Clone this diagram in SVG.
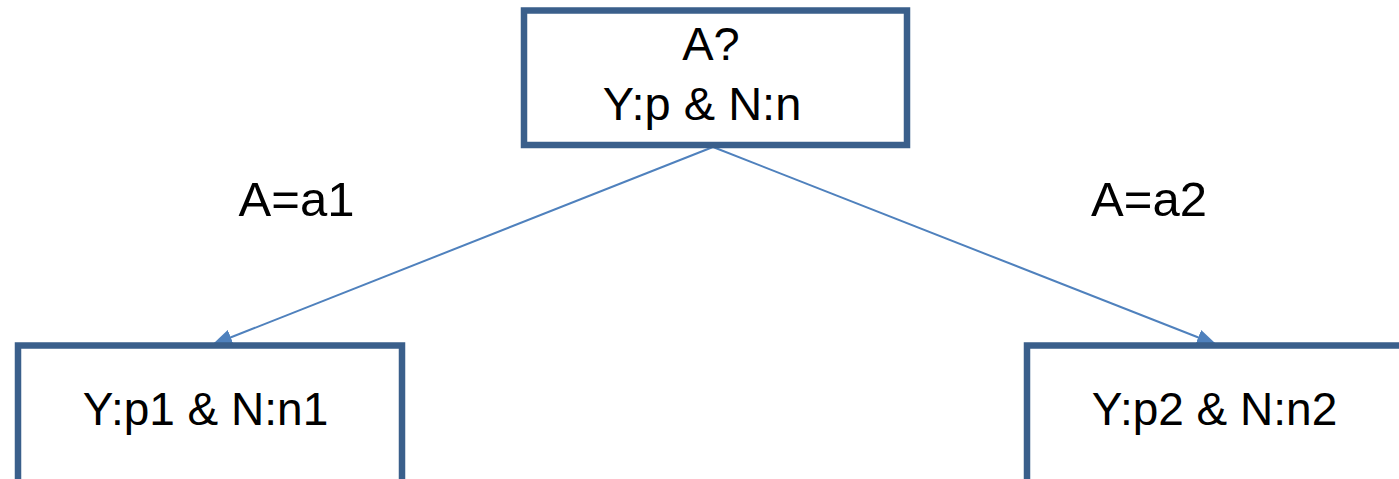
<svg xmlns="http://www.w3.org/2000/svg" width="1399" height="479" viewBox="0 0 1399 479">
<style>
.box{fill:#fff;stroke:#3a5f8b;stroke-width:6.5}
.t{font-family:"Liberation Sans",Arial,sans-serif;fill:#000;text-anchor:middle}
.edge{stroke:#4f81bd;stroke-width:2;fill:none}
</style>
<defs>
<marker id="ah2" viewBox="0 0 20 16" refX="18" refY="8" markerWidth="20" markerHeight="16" markerUnits="userSpaceOnUse" orient="auto">
<path d="M0,0 L20,8 L0,16 z" fill="#4f81bd"/>
</marker>
</defs>
<rect width="1399" height="479" fill="#fff"/>
<g id="connectors">
<line class="edge" x1="713" y1="147" x2="214" y2="344" marker-end="url(#ah2)"/>
<line class="edge" x1="713" y1="147" x2="1215" y2="344" marker-end="url(#ah2)"/>
<text class="t" x="296.5" y="216" font-size="49">A=a1</text>
<text class="t" x="1149" y="216" font-size="49">A=a2</text>
</g>
<g id="root">
<rect class="box" x="524" y="10.5" width="383" height="134.5"/>
<text class="t" x="711" y="60" font-size="47">A?</text>
<text class="t" x="702" y="120" font-size="47">Y:p &amp; N:n</text>
</g>
<g id="left">
<rect class="box" x="18" y="345.5" width="384" height="150"/>
<text class="t" x="205.5" y="425" font-size="46">Y:p1 &amp; N:n1</text>
</g>
<g id="right">
<rect class="box" x="1027" y="345.5" width="400" height="150"/>
<text class="t" x="1214.5" y="425" font-size="46">Y:p2 &amp; N:n2</text>
</g>
</svg>
